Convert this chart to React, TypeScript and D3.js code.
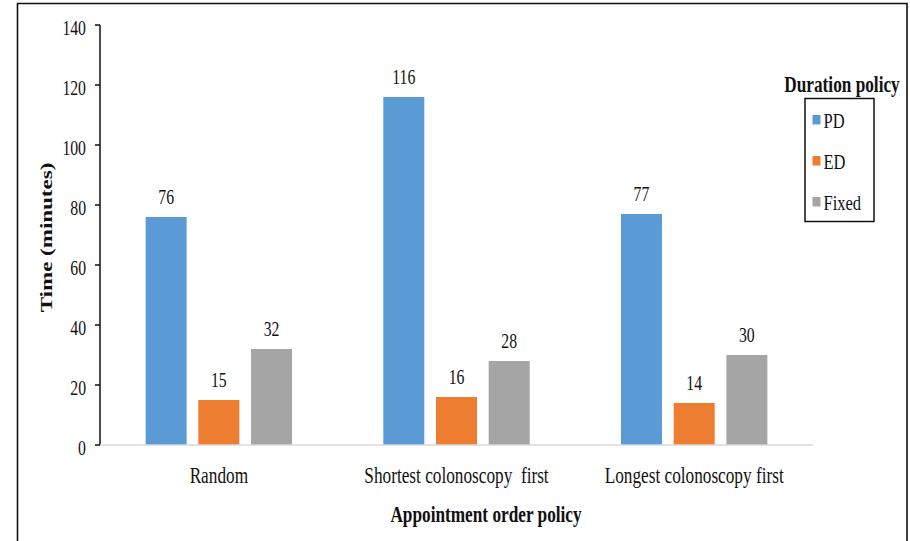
import React from "react";
import * as d3 from "d3";

// Appointment order policies (x categories) and duration policies (series)
const categories = ["Random", "Shortest colonoscopy\u00a0\u00a0first", "Longest colonoscopy first"];
const seriesNames = ["PD", "ED", "Fixed"];
const seriesColors = ["#5B9BD5", "#ED7D31", "#A5A5A5"];
const pdValues = [76, 116, 77];
const edValues = [15, 16, 14];
const fixedValues = [32, 28, 30];
const yTicks = [0, 20, 40, 60, 80, 100, 120, 140];

const W = 910;
const H = 541;
const SX = 0.75; // horizontal condensing of the serif text

const FONT = "'Liberation Serif', 'Times New Roman', serif";

type TxtProps = {
  x: number;
  y: number;
  size: number;
  anchor?: "start" | "middle" | "end";
  bold?: boolean;
  rotate?: boolean;
  children: React.ReactNode;
};

function Txt({ x, y, size, anchor = "start", bold = false, rotate = false, children }: TxtProps) {
  return (
    <g transform={`translate(${x},${y}) scale(${SX},1)${rotate ? " rotate(-90)" : ""}`}>
      <text
        x={0}
        y={0}
        fontFamily={FONT}
        fontSize={size}
        fontWeight={bold ? "bold" : "normal"}
        textAnchor={anchor}
        fill="#111"
      >
        {children}
      </text>
    </g>
  );
}

export default function App() {
  const values = [pdValues, edValues, fixedValues];

  const x0 = d3.scaleBand<string>().domain(categories).range([100, 813]).padding(0);
  const x1 = d3.scaleBand<string>().domain(seriesNames).range([-73.2, 73.2]).paddingInner(0.222);
  const y = d3.scaleLinear().domain([0, 140]).range([445, 25]);

  return (
    <svg
      width={W}
      height={H}
      style={{ position: "absolute", left: 0, top: 0, background: "#fff" }}
    >
      {/* outer frame */}
      <path d={`M17.5,${H + 2} V3.5 H907 V${H + 2}`} fill="none" stroke="#111" strokeWidth={1.6} />

      {/* y axis */}
      <line x1={100} x2={100} y1={y(140)} y2={y(0)} stroke="#111" strokeWidth={1.5} />
      {yTicks.map((t) => (
        <g key={t}>
          <line x1={95} x2={100} y1={y(t)} y2={y(t)} stroke="#111" strokeWidth={1.5} />
          <Txt x={86} y={y(t) + 9.5} size={21} anchor="end">
            {t}
          </Txt>
        </g>
      ))}

      {/* bars and value labels */}
      {categories.map((c, ci) => {
        const cx = (x0(c) as number) + x0.bandwidth() / 2;
        return (
          <g key={c}>
            {seriesNames.map((s, si) => {
              const v = values[si][ci];
              const bx = cx + (x1(s) as number);
              return (
                <g key={s}>
                  <rect
                    x={bx}
                    y={y(v)}
                    width={x1.bandwidth()}
                    height={y(0) - y(v)}
                    fill={seriesColors[si]}
                  />
                  <Txt x={bx + x1.bandwidth() / 2} y={y(v) - 13} size={21} anchor="middle">
                    {v}
                  </Txt>
                </g>
              );
            })}
            <Txt x={cx} y={482.5} size={23} anchor="middle">
              {c}
            </Txt>
          </g>
        );
      })}

      {/* x axis baseline */}
      <line x1={100} x2={813} y1={y(0)} y2={y(0)} stroke="#d9d9d9" strokeWidth={1.5} />

      {/* axis titles */}
      <Txt x={486} y={521.5} size={23} anchor="middle" bold>
        Appointment order policy
      </Txt>
      <Txt x={51.5} y={237.5} size={23} anchor="middle" bold rotate>
        Time (minutes)
      </Txt>

      {/* legend */}
      <Txt x={842} y={91.5} size={23} anchor="middle" bold>
        Duration policy
      </Txt>
      <rect x={805} y={98.5} width={69} height={123} fill="#fff" stroke="#111" strokeWidth={1.5} />
      {seriesNames.map((s, i) => {
        const base = 128.3 + i * 41;
        return (
          <g key={s}>
            <rect x={812.5} y={base - 13.3} width={8} height={9.5} fill={seriesColors[i]} />
            <Txt x={823.5} y={base} size={22}>
              {s}
            </Txt>
          </g>
        );
      })}
    </svg>
  );
}
